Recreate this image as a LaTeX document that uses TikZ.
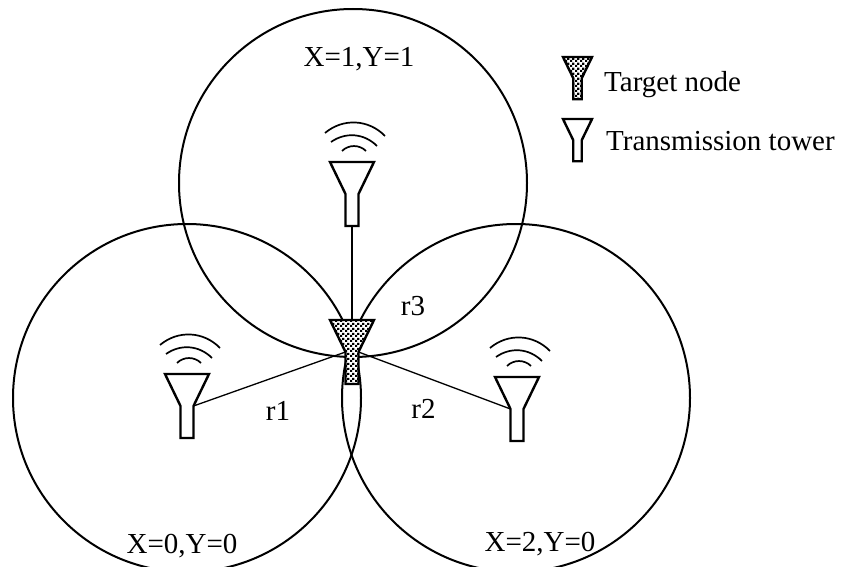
\documentclass[tikz,border=0pt]{standalone}
\usepackage{fontspec}
\setmainfont{Liberation Serif}
\usetikzlibrary{patterns}

\pgfdeclarepatternformonly{checkdots}{\pgfqpoint{0pt}{0pt}}{\pgfqpoint{5pt}{5pt}}{\pgfqpoint{5pt}{5pt}}{
  \pgfpathrectangle{\pgfqpoint{0pt}{0pt}}{\pgfqpoint{2.5pt}{2.5pt}}
  \pgfpathrectangle{\pgfqpoint{2.5pt}{2.5pt}}{\pgfqpoint{2.5pt}{2.5pt}}
  \pgfusepath{fill}
}

\tikzset{
  cellring/.style={line width=2pt},
  towerlink/.style={line width=1.3pt},
  figtext/.style={font=\fontsize{29}{32}\selectfont, inner sep=0pt, anchor=base},
  solidbody/.style={line width=2.4pt, line join=miter, fill=white},
  dottedbody/.style={line width=2.4pt, line join=miter, preaction={fill=white}, pattern=checkdots},
  pics/funnel/.style={code={
    \draw[#1] (-22,0) -- (22,0) -- (6.5,32) -- (6.5,64) -- (-6.5,64) -- (-6.5,32) -- cycle;
    \coordinate (-top) at (0,0);
    \coordinate (-left) at (-6.5,32);
    \coordinate (-right) at (6.5,32);
    \coordinate (-foot) at (0,64);
  }},
  pics/waves/.style={code={
    \draw[line width=1.7pt] (-10,-11) to[bend left=45] (14,-11);
    \draw[line width=1.7pt] (-21,-20) to[bend left=40] (25,-16);
    \draw[line width=1.7pt] (-27,-29) to[bend left=43] (33,-26);
  }}
}

\begin{document}
\begin{tikzpicture}[x=1pt, y=-1pt]
    \useasboundingbox (0,0) rectangle (841,567);
    \clip (0,0) rectangle (841,567);

    \coordinate (A) at (187,398);
    \coordinate (B) at (516,398);
    \coordinate (C) at (353,183);

    \draw[cellring] (A) circle (174);
    \draw[cellring] (B) circle (174);
    \draw[cellring] (C) circle (174);

    % towers
    \pic (left) at (187,374) {funnel=solidbody};
    \pic (right) at (517,377) {funnel=solidbody};
    \pic (upper) at (352,162) {funnel=solidbody};
    \pic at (187,374) {waves};
    \pic at (517,377) {waves};
    \pic at (352,162) {waves};

    % target node
    \pic (target) at (352,320) {funnel=dottedbody};

    \draw[towerlink] (left-right) -- (target-left);
    \draw[towerlink] (right-left) -- (target-right);
    \draw[towerlink] (upper-foot) -- (target-top);

    \node[figtext] (r1) at (278,420) {r1};
    \node[figtext] (r2) at (423.5,418) {r2};
    \node[figtext] (r3) at (413,315) {r3};

    \node[figtext] (area0) at (182,553) {X=0,Y=0};
    \node[figtext] (area1) at (359,67) {X=1,Y=1};
    \node[figtext] (area2) at (540,551) {X=2,Y=0};

    % legend
    \pic[scale=.66] (keytarget) at (577.5,57) {funnel=dottedbody};
    \pic[scale=.66] (keytower) at (577.5,119) {funnel=solidbody};
    \node[figtext, anchor=base west] (keytargetlabel) at (604,92) {Target node};
    \node[figtext, anchor=base west] (keytowerlabel) at (606,151) {Transmission tower};
  \end{tikzpicture}
\end{document}
